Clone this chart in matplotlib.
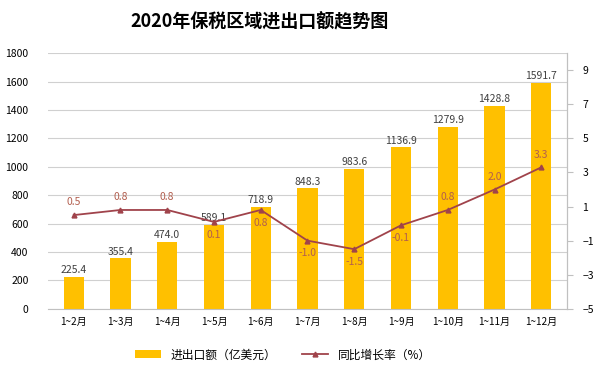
import numpy as np
import matplotlib.pyplot as plt

plt.rcParams['font.family'] = ['Noto Sans CJK SC', 'DejaVu Sans']

# 数据
months = ['1~2月', '1~3月', '1~4月', '1~5月', '1~6月', '1~7月',
          '1~8月', '1~9月', '1~10月', '1~11月', '1~12月']
trade = [225.4, 355.4, 474.0, 589.1, 718.9, 848.3, 983.6, 1136.9, 1279.9, 1428.8, 1591.7]
growth = [0.5, 0.8, 0.8, 0.1, 0.8, -1.0, -1.5, -0.1, 0.8, 2.0, 3.3]
label_below = [False, False, False, True, True, True, True, True, False, False, False]

fig = plt.figure(figsize=(6, 3.69), dpi=100)
ax = fig.add_axes([0.08, 0.163, 0.865, 0.693])
x = np.arange(len(months))

bar_color = '#FFC000'
line_color = '#A0434B'
lab_color = '#B25E4E'

bars = ax.bar(x, trade, width=0.43, color=bar_color, zorder=2, label='进出口额（亿美元）')
for xi, v in zip(x, trade):
    ax.text(xi, v + 12, f'{v:.1f}', ha='center', va='bottom', fontsize=7.5, color='#404040', zorder=5)

ax.set_ylim(0, 1800)
ax.set_yticks(range(0, 1801, 200))
ax.set_xlim(-0.55, len(months) - 0.45)
ax.set_xticks(x)
ax.set_xticklabels(months, fontsize=7.2)
ax.tick_params(axis='y', labelsize=7.5, length=0, pad=14)
ax.tick_params(axis='x', length=0, pad=6)
ax.grid(axis='y', color='#D0D0D0', linewidth=0.8, zorder=0)
for s in ['left', 'top']:
    ax.spines[s].set_visible(False)
ax.spines['bottom'].set_color('#C0C0C0')
ax.spines['right'].set_color('#C0C0C0')

ax2 = ax.twinx()
ax2.set_ylim(-5, 10)
ax2.set_yticks(range(-5, 10, 2))
ax2.tick_params(axis='y', labelsize=7.5, direction='out', length=4, color='#C0C0C0', pad=7)
for s in ['left', 'top', 'bottom']:
    ax2.spines[s].set_visible(False)
ax2.spines['right'].set_color('#C0C0C0')
line, = ax2.plot(x, growth, color=line_color, linewidth=1.3, marker='^', markersize=3.5,
                 zorder=4, label='同比增长率（%）')
for xi, g, below in zip(x, growth, label_below):
    if below:
        ax2.text(xi, g - 0.45, f'{g:.1f}', ha='center', va='top', fontsize=7.5, color=lab_color)
    else:
        ax2.text(xi, g + 0.45, f'{g:.1f}', ha='center', va='bottom', fontsize=7.5, color=lab_color)

fig.text(0.432, 0.94, '2020年保税区域进出口额趋势图', ha='center', va='center',
         fontsize=13, fontweight='bold')
fig.legend([bars, line], ['进出口额（亿美元）', '同比增长率（%）'], loc='center',
           bbox_to_anchor=(0.472, 0.038), ncol=2, frameon=False, fontsize=8.5,
           handlelength=2.2, columnspacing=2.2)

fig.savefig('out.png', dpi=100)
